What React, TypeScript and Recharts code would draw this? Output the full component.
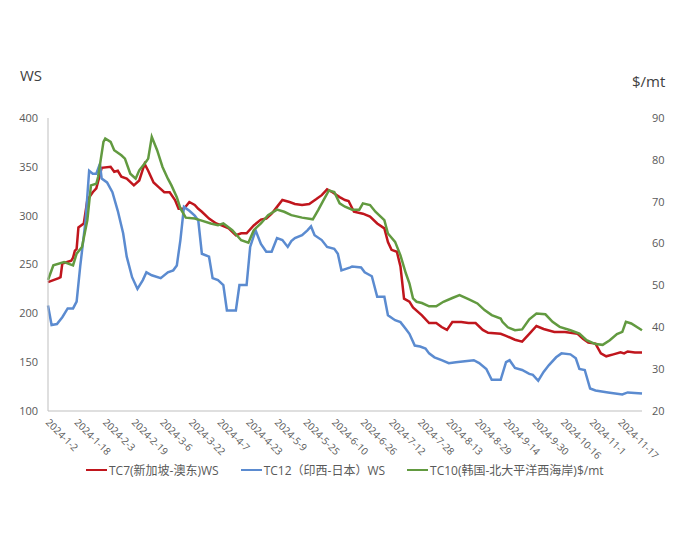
import { LineChart, Line, XAxis, YAxis } from 'recharts'

// day offsets counted from 2024-1-2
const tickDays = [0, 16, 32, 48, 64, 80, 96, 112, 128, 144, 160, 176, 192, 208, 224, 240, 256, 272, 288, 304, 320]
const tickLabels = [
  '2024-1-2', '2024-1-18', '2024-2-3', '2024-2-19', '2024-3-6', '2024-3-22', '2024-4-7',
  '2024-4-23', '2024-5-9', '2024-5-25', '2024-6-10', '2024-6-26', '2024-7-12', '2024-7-28',
  '2024-8-13', '2024-8-29', '2024-9-14', '2024-9-30', '2024-10-16', '2024-11-1', '2024-11-17'
]
const leftTicks = [100, 150, 200, 250, 300, 350, 400]
const rightTicks = [20, 30, 40, 50, 60, 70, 80, 90]

// [day, WS]
const tc7 = [
  [0, 232], [6, 236], [7, 237], [8, 251], [13, 254], [14, 257], [15, 264], [16, 266], [17, 288], [20, 292],
  [22, 316], [25, 324], [27, 328], [30, 349], [35, 350], [37, 345], [39, 346], [41, 340], [44, 338], [48, 331],
  [51, 336], [54, 353], [56, 346], [59, 334], [62, 329], [65, 324], [68, 324], [71, 316], [73, 307], [76, 307],
  [79, 314], [82, 311], [84, 307], [86, 304], [90, 297], [94, 292], [97, 290], [101, 287], [105, 280], [108, 282],
  [111, 282], [115, 290], [119, 296], [122, 297], [125, 302], [128, 309], [131, 316], [135, 314], [138, 312], [142, 311],
  [146, 312], [150, 317], [153, 321], [156, 327], [159, 324], [163, 319], [166, 316], [168, 315], [171, 304], [176, 302],
  [180, 299], [184, 292], [188, 287], [190, 273], [192, 265], [195, 263], [197, 248], [199, 215], [202, 212], [204, 206],
  [209, 198], [213, 190], [217, 190], [220, 186], [223, 183], [226, 191], [231, 191], [235, 190], [239, 190], [243, 183],
  [246, 180], [253, 179], [256, 177], [261, 173], [265, 171], [269, 179], [273, 187], [277, 184], [283, 181], [289, 181],
  [296, 179], [299, 174], [302, 170], [306, 169], [309, 159], [312, 156], [316, 158], [320, 160], [322, 159], [324, 161],
  [328, 160], [332, 160]
]

// [day, WS]
const tc12 = [
  [0, 208], [2, 188], [5, 189], [8, 196], [11, 205], [14, 205], [16, 212], [18, 248], [21, 295], [23, 346],
  [25, 343], [27, 343], [29, 353], [30, 338], [33, 334], [36, 324], [39, 305], [42, 282], [44, 258], [47, 237],
  [50, 225], [53, 234], [55, 242], [58, 239], [63, 236], [67, 242], [70, 244], [72, 249], [74, 275], [76, 309],
  [79, 305], [82, 300], [84, 295], [86, 261], [90, 258], [92, 236], [95, 234], [98, 229], [100, 203], [105, 203],
  [107, 229], [111, 229], [113, 268], [116, 285], [119, 271], [122, 263], [125, 263], [128, 277], [131, 275], [134, 268],
  [136, 274], [138, 277], [142, 280], [145, 285], [147, 289], [149, 280], [153, 275], [156, 268], [160, 266], [162, 261],
  [164, 244], [169, 247], [170, 248], [175, 247], [177, 242], [181, 238], [184, 217], [188, 217], [190, 198], [194, 193],
  [197, 191], [200, 184], [202, 179], [205, 167], [208, 166], [211, 164], [213, 159], [216, 155], [220, 152], [224, 149],
  [228, 150], [233, 151], [238, 152], [241, 149], [245, 143], [248, 132], [253, 132], [256, 150], [258, 152], [261, 144],
  [265, 142], [269, 138], [271, 137], [274, 131], [277, 140], [280, 147], [284, 155], [287, 159], [292, 158], [295, 154],
  [297, 143], [300, 142], [303, 123], [306, 121], [313, 119], [321, 117], [324, 119], [332, 118]
]

// [day, $/mt]
const tc10 = [
  [0, 51.3], [3, 54.8], [9, 55.6], [14, 54.8], [16, 57.6], [19, 59.2], [22, 65.6], [24, 73.9], [27, 74.3], [28, 75.9],
  [31, 84.3], [32, 85.1], [35, 84.3], [37, 82.3], [41, 81.1], [43, 80.3], [46, 76.7], [49, 75.5], [51, 77.5], [54, 79.1],
  [56, 80.3], [58, 85.5], [61, 82.3], [64, 78.3], [67, 75.5], [69, 73.9], [72, 71.1], [74, 68.4], [77, 66.2], [82, 66],
  [85, 65.6], [91, 64.8], [95, 64.4], [98, 64.8], [103, 63.2], [108, 60.8], [112, 60.2], [115, 63.2], [119, 64.8], [123, 66.8],
  [128, 68.1], [132, 67.6], [136, 66.8], [142, 66.2], [148, 65.8], [151, 68], [154, 70.4], [157, 72.7], [160, 72.3], [163, 69.6],
  [166, 68.8], [170, 68.1], [174, 68.1], [176, 69.6], [180, 69.2], [183, 67.6], [188, 65.6], [190, 62.4], [194, 60.4], [197, 57.2],
  [200, 52.9], [202, 50.5], [204, 46.9], [206, 46.1], [209, 45.8], [213, 45], [217, 45], [221, 46.1], [226, 47], [230, 47.7],
  [235, 46.7], [240, 45.7], [244, 44.1], [248, 42.9], [253, 42.1], [254, 41.3], [257, 40], [261, 39.3], [265, 39.5], [269, 41.9],
  [273, 43.3], [278, 43.1], [282, 41.3], [286, 40.1], [292, 39.3], [297, 38.5], [301, 36.9], [306, 36], [310, 35.8], [314, 36.9],
  [318, 38.4], [321, 38.9], [323, 41.3], [326, 40.9], [332, 39.3]
]

const series = [
  { name: 'TC7(新加坡-澳东)WS', color: '#C0161D', points: tc7, axis: 'left' },
  { name: 'TC12（印西-日本）WS', color: '#5B8BD0', points: tc12, axis: 'left' },
  { name: 'TC10(韩国-北大平洋西海岸)$/mt', color: '#629A40', points: tc10, axis: 'right' }
]

const font = '"Open Sans", "Noto Sans CJK SC", sans-serif'
const toRows = (pts: number[][]) => pts.map(([d, v]) => ({ d, v }))

const DateTick = (props: any) => {
  const { x, y, payload } = props
  const tx = x - 3
  const ty = y + 4
  return (
    <text x={tx} y={ty} transform={`rotate(45 ${tx} ${ty})`} textAnchor="start"
      fontSize={10} fill="#595959" fontFamily={font}>
      {tickLabels[tickDays.indexOf(payload.value)]}
    </text>
  )
}

export default function App() {
  return (
    <div style={{ position: 'absolute', left: 0, top: 0, width: 700, height: 550, background: '#fff', fontFamily: font }}>
      <div style={{ position: 'absolute', left: 20, top: 65, fontSize: 15, color: '#404040' }}>WS</div>
      <div style={{ position: 'absolute', left: 632, top: 71, fontSize: 15, color: '#404040' }}>$/mt</div>

      <LineChart width={700} height={550} margin={{ top: 118, right: 18, left: 0, bottom: 79 }}>
        <XAxis dataKey="d" type="number" domain={[0, 332]} ticks={tickDays} interval={0}
          tick={<DateTick />} tickLine={false} axisLine={{ stroke: '#BFBFBF' }} height={60} allowDuplicatedCategory={false} />
        <YAxis yAxisId="left" domain={[100, 400]} ticks={leftTicks} width={48}
          tickLine={false} tickSize={8} tickMargin={2} axisLine={{ stroke: '#BFBFBF' }}
          tick={{ fontSize: 11, fill: '#595959', fontFamily: font }} />
        <YAxis yAxisId="right" orientation="right" domain={[20, 90]} ticks={rightTicks} width={40}
          tickLine={false} tickSize={8} tickMargin={2} axisLine={false}
          tick={{ fontSize: 11, fill: '#595959', fontFamily: font }} />
        {series.map((s) => (
          <Line key={s.name} data={toRows(s.points)} dataKey="v" name={s.name} yAxisId={s.axis}
            type="linear" stroke={s.color} strokeWidth={2.5} dot={false} isAnimationActive={false} />
        ))}
      </LineChart>

      <div style={{ position: 'absolute', left: 86, top: 461, display: 'flex', fontSize: 12, color: '#595959' }}>
        {series.map((s) => (
          <div key={s.name} style={{ display: 'flex', alignItems: 'center', marginRight: 22 }}>
            <span style={{ display: 'inline-block', width: 21, height: 2.5, background: s.color, marginRight: 2 }} />
            <span>{s.name}</span>
          </div>
        ))}
      </div>
    </div>
  )
}
